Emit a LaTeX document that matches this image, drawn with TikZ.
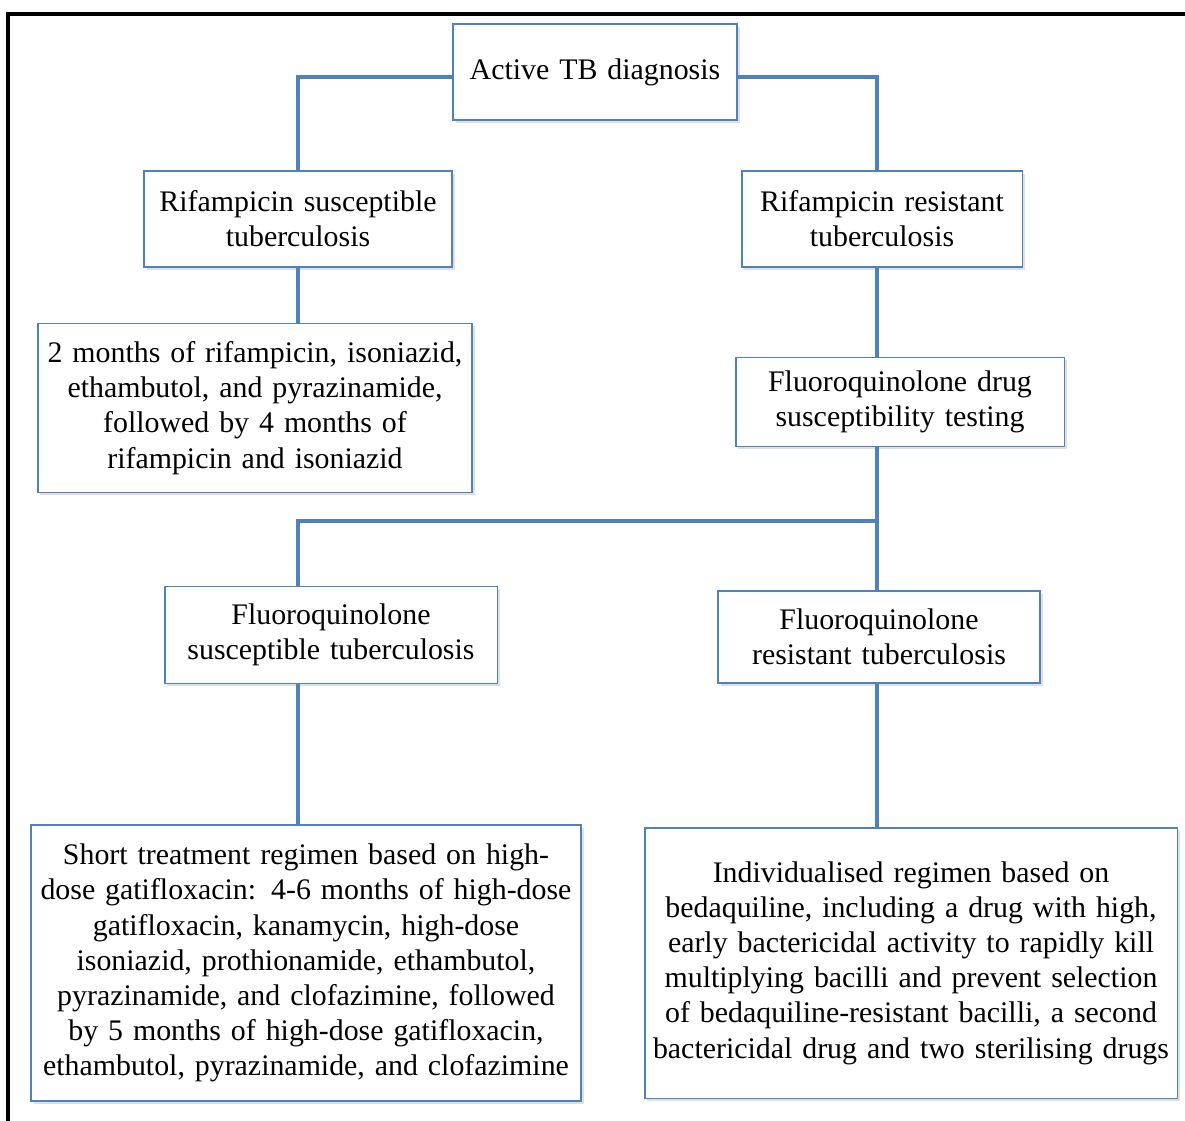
\documentclass[tikz,border=0pt]{standalone}
\usepackage{fontspec}
\setmainfont{Liberation Serif}
\usetikzlibrary{shadows}
\definecolor{boxblue}{RGB}{79,129,189}

\begin{document}
\begin{tikzpicture}[x=0.02cm,y=-0.02cm,
  box/.style={draw=boxblue,line width=1.1pt,fill=white,align=center,inner xsep=0pt,
    font=\fontsize{17}{20}\selectfont,
    drop shadow={shadow xshift=1.5pt,shadow yshift=-1.5pt,opacity=0.25}},
  link/.style={draw=boxblue,line width=2.3pt}]
\useasboundingbox (0,0) rectangle (1185,1120);
\draw[line width=2.3pt] (8,14) rectangle (1200,1135);

\node[box,text width=5.68cm,minimum height=1.92cm] (active_tb) at (595,72) {Active TB diagnosis};
\node[box,text width=6.16cm,minimum height=1.92cm] (rif_susc) at (298,219) {Rifampicin susceptible\\ tuberculosis};
\node[box,text width=5.62cm,minimum height=1.92cm] (rif_res) at (882,219) {Rifampicin resistant\\ tuberculosis};
\node[box,text width=8.70cm,minimum height=3.38cm] (two_months) at (255,408) {
2 months of rifampicin, isoniazid,\\
ethambutol, and pyrazinamide,\\
followed by 4 months of\\
rifampicin and isoniazid};
\node[box,text width=6.58cm,minimum height=1.78cm] (fq_dst) at (900,402) {Fluoroquinolone drug\\ susceptibility testing};
\node[box,text width=6.66cm,minimum height=1.94cm] (fq_susc) at (331,635) {Fluoroquinolone\\ susceptible tuberculosis};
\node[box,text width=6.44cm,minimum height=1.84cm] (fq_res) at (879,637) {Fluoroquinolone\\ resistant tuberculosis};
\node[box,text width=11.00cm,minimum height=5.52cm] (short_reg) at (306,963) {
Short treatment regimen based on high-\\
dose gatifloxacin: 4-6 months of high-dose\\
gatifloxacin, kanamycin, high-dose\\
isoniazid, prothionamide, ethambutol,\\
pyrazinamide, and clofazimine, followed\\
by 5 months of high-dose gatifloxacin,\\
ethambutol, pyrazinamide, and clofazimine};
\node[box,text width=10.66cm,minimum height=5.42cm] (indiv_reg) at (911,963) {
Individualised regimen based on\\
bedaquiline, including a drug with high,\\
early bactericidal activity to rapidly kill\\
multiplying bacilli and prevent selection\\
of bedaquiline-resistant bacilli, a second\\
bactericidal drug and two sterilising drugs};

\coordinate (split) at (877,521);
\coordinate (susc_in) at (298,587);

\draw[link] ([yshift=-5*0.02cm]active_tb.west) -| (rif_susc.north);
\draw[link] ([yshift=-5*0.02cm]active_tb.east) -| ([xshift=-5*0.02cm]rif_res.north);
\draw[link] (rif_susc.south) -- (rif_susc.south |- two_months.north);
\draw[link] ([xshift=-5*0.02cm]rif_res.south) -- ([xshift=-5*0.02cm]rif_res.south |- fq_dst.north);
\draw[link] (split |- fq_dst.south) -- (split |- fq_res.north);
\draw[link] (split) -| (susc_in);
\draw[link] (susc_in |- fq_susc.south) -- (susc_in |- short_reg.north);
\draw[link] (split |- fq_res.south) -- (split |- indiv_reg.north);
\end{tikzpicture}
\end{document}
